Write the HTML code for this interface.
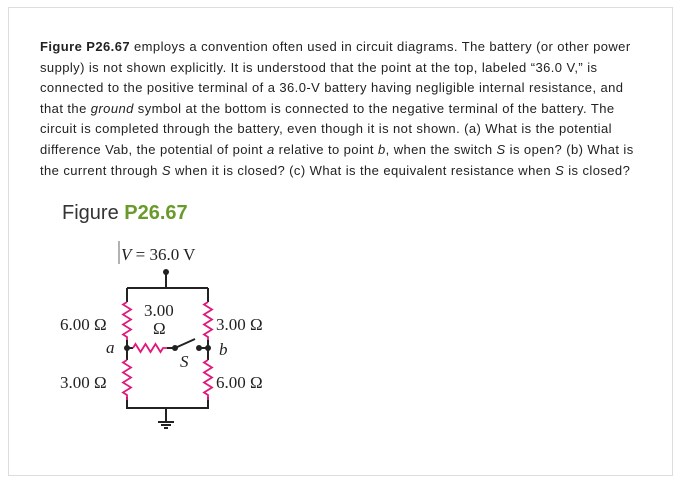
<!DOCTYPE html>
<html><head><style>
body{margin:0;width:681px;height:485px;background:#fff;overflow:hidden;font-family:"Liberation Sans",sans-serif;}
.box{position:absolute;left:8px;top:7px;width:663px;height:467px;border:1px solid #ddd;}
.t{position:absolute;left:40px;top:37px;font-size:13px;line-height:20.6px;color:#222;white-space:nowrap;letter-spacing:0.42px;}
.fig{position:absolute;left:62px;top:202px;font-size:20px;color:#333;}
.fig b{color:#6a9a2a;}
</style></head><body>
<div class="box"></div>
<div class="t"><b>Figure P26.67</b> employs a convention often used in circuit diagrams. The battery (or other power<br>supply) is not shown explicitly. It is understood that the point at the top, labeled “36.0 V,” is<br>connected to the positive terminal of a 36.0-V battery having negligible internal resistance, and<br>that the <i>ground</i> symbol at the bottom is connected to the negative terminal of the battery. The<br>circuit is completed through the battery, even though it is not shown. (a) What is the potential<br>difference Vab, the potential of point <i>a</i> relative to point <i>b</i>, when the switch <i>S</i> is open? (b) What is<br>the current through <i>S</i> when it is closed? (c) What is the equivalent resistance when <i>S</i> is closed?</div>
<div class="fig">Figure <b>P26.67</b></div>
<svg width="681" height="485" style="position:absolute;left:0;top:0" font-family="Liberation Serif,serif" font-size="17">
<g stroke="#222" stroke-width="2" fill="none">
<path d="M166 272V288M127 288H208M127 288V302M127 340V360M127 397V408H208V397M208 288V302M208 340V360M127 348H133M167 348H175M199 348H208M166 408V422"/>
<path d="M175 348L195 339"/>
<path d="M158 422H174M161 425H171M164 428H168"/>
</g>
<g stroke="#e0197a" stroke-width="1.8" fill="none">
<path d="M127 302l-4 2.5 8 5-8 5 8 5-8 5 8 5-8 5 4 2.5v3"/>
<path d="M208 302l-4 2.5 8 5-8 5 8 5-8 5 8 5-8 5 4 2.5v3"/>
<path d="M127 360l-4 2.5 8 5-8 5 8 5-8 5 8 5-8 5 4 2.5v5"/>
<path d="M208 360l-4 2.5 8 5-8 5 8 5-8 5 8 5-8 5 4 2.5v5"/>
<path d="M133 348l2.5-4 5 8 5-8 5 8 5-8 5 8 2.5-4h4"/>
</g>
<g fill="#222"><circle cx="166" cy="272" r="3"/><circle cx="127" cy="348" r="3"/><circle cx="175" cy="348" r="3"/><circle cx="199" cy="348" r="3"/><circle cx="208" cy="348" r="3"/></g>
<line x1="119" y1="241" x2="119" y2="264" stroke="#666" stroke-width="1"/>
<text x="121" y="260" fill="#222"><tspan font-style="italic">V</tspan> = 36.0 V</text>
<text x="144" y="316" fill="#222">3.00</text>
<text x="153" y="334" fill="#222">Ω</text>
<text x="60" y="330" fill="#222">6.00 Ω</text>
<text x="216" y="330" fill="#222">3.00 Ω</text>
<text x="60" y="388" fill="#222">3.00 Ω</text>
<text x="216" y="388" fill="#222">6.00 Ω</text>
<text x="106" y="353" fill="#222" font-style="italic">a</text>
<text x="219" y="355" fill="#222" font-style="italic">b</text>
<text x="180" y="367" fill="#222" font-style="italic">S</text>
</svg>
</body></html>
